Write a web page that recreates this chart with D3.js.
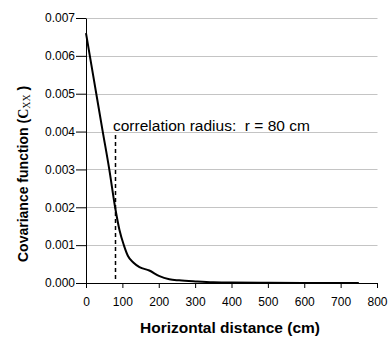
<!DOCTYPE html>
<html>
<head>
<meta charset="utf-8">
<script src="https://cdn.jsdelivr.net/npm/d3@7"></script>
<style>
  body { margin: 0; background: #fff; }
  svg { display: block; font-family: 'Liberation Sans', Arial, sans-serif; }
</style>
</head>
<body>
<div id="chart"></div>
<script>
// Covariance function vs horizontal distance
const distance = [0, 15, 30, 46, 64, 80, 92, 104, 115, 130, 147, 174, 202, 229, 256, 306, 350, 400, 500, 600, 750];
const covariance = [0.0066, 0.00575, 0.0049, 0.004, 0.003, 0.002, 0.0014, 0.001, 0.00072, 0.00054, 0.00042, 0.00033,
  0.00018, 0.0001, 0.00007, 0.00004, 0.00002, 0.00001, 0.000005, 0.000003, 0.000002];

const xTicks = [0, 100, 200, 300, 400, 500, 600, 700, 800];
const yTicks = [0, 0.001, 0.002, 0.003, 0.004, 0.005, 0.006, 0.007];

const radius = 80;
const radiusLabel = 'correlation radius:\u00a0\u00a0r = 80 cm';

const width = 390;
const height = 338;

const svg = d3.select('#chart').append('svg').attr('width', width).attr('height', height);

const x = d3.scaleLinear().domain([0, 800]).range([86, 377]);
const y = d3.scaleLinear().domain([0, 0.007]).range([283, 18]);

/* Grid
=========================================================================*/
svg.append('g')
  .selectAll('line')
  .data(yTicks.slice(1))
  .join('line')
  .attr('x1', x(0))
  .attr('x2', x(800) + 0.5)
  .attr('y1', (d) => Math.round(y(d)) + 0.5)
  .attr('y2', (d) => Math.round(y(d)) + 0.5)
  .attr('stroke', '#c4c4c4')
  .attr('stroke-width', 1);

/* Axes
=========================================================================*/
const xAxis = svg.append('g')
  .attr('transform', `translate(0,${y(0)})`)
  .call(d3.axisBottom(x).tickValues(xTicks).tickSize(5).tickSizeOuter(0).tickPadding(9));

const yAxis = svg.append('g')
  .attr('transform', `translate(${x(0)},0)`)
  .call(d3.axisLeft(y).tickValues(yTicks).tickFormat(d3.format('.3f')).tickSize(10).tickSizeOuter(0).tickPadding(1));

[xAxis, yAxis].forEach((g) => {
  g.selectAll('text').attr('font-size', 12).attr('fill', '#000').attr('font-family', "'Liberation Sans', Arial, sans-serif");
  g.selectAll('line, path').attr('stroke', '#000');
});

/* Curve
=========================================================================*/
const line = d3.line()
  .x((d, i) => x(distance[i]))
  .y((d) => y(d))
  .curve(d3.curveMonotoneX);

svg.append('path')
  .datum(covariance)
  .attr('d', line)
  .attr('fill', 'none')
  .attr('stroke', '#000')
  .attr('stroke-width', 2);

// correlation radius marker
svg.append('line')
  .attr('x1', Math.round(x(radius)) + 0.5)
  .attr('x2', Math.round(x(radius)) + 0.5)
  .attr('y1', 135)
  .attr('y2', 280)
  .attr('stroke', '#000')
  .attr('stroke-width', 1.5)
  .attr('stroke-dasharray', '4,3');

svg.append('text')
  .attr('x', 113)
  .attr('y', 131)
  .attr('font-size', 15.5)
  .text(radiusLabel);

/* Labels
=========================================================================*/
svg.append('text')
  .attr('x', 140)
  .attr('y', 333)
  .attr('font-size', 15.5)
  .attr('font-weight', 'bold')
  .text('Horizontal distance (cm)');

const yLabel = svg.append('text')
  .attr('transform', 'translate(28,262) rotate(-90)')
  .attr('font-size', 14)
  .attr('font-weight', 'bold');

yLabel.append('tspan').text('Covariance function (');
yLabel.append('tspan').attr('font-family', "'Liberation Serif', serif").text('C');
yLabel.append('tspan').attr('font-family', "'Liberation Serif', serif").attr('font-weight', 'normal')
  .attr('font-size', 10).attr('dy', 2).text('XX');
yLabel.append('tspan').attr('dy', -2).text('\u00a0)');
</script>
</body>
</html>
